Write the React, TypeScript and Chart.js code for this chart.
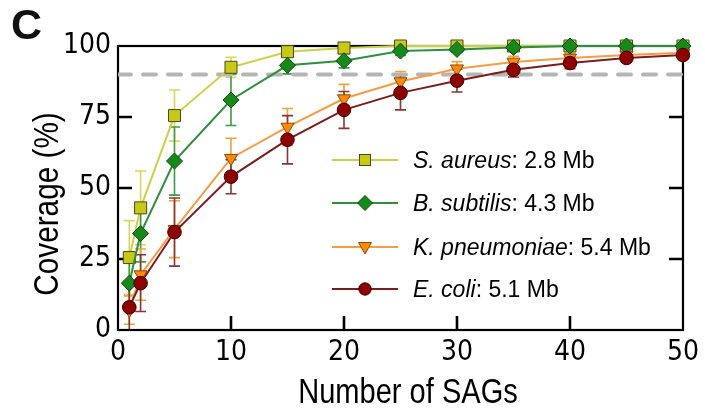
import React, { useEffect, useRef } from "react";
import { Chart, registerables } from "chart.js";

Chart.register(...registerables);

// ---------- data ----------
const sagCounts = [1, 2, 5, 10, 15, 20, 25, 30, 35, 40, 45, 50];

const sAureusCoverage = [25.5, 43, 75.5, 92.5, 98, 99.3, 100, 100, 100, 100, 100, 100];
const sAureusError = [13, 13, 9, 3.5, 1.5, 0.8, 0.3, 0.2, 0.2, 0.1, 0.1, 0.1];

const bSubtilisCoverage = [16.5, 34, 59.5, 81, 93.2, 94.8, 98.2, 98.8, 99.5, 100, 100, 100];
const bSubtilisError = [7, 10, 12, 9, 3, 2.5, 1.5, 1, 0.6, 0.3, 0.2, 0.2];

const kPneumoniaeCoverage = [7, 19.5, 35.5, 60.5, 71.5, 81.5, 87.5, 92, 94.4, 95.8, 96.8, 97.6];
const kPneumoniaeError = [5, 9, 10, 7, 6.5, 5, 3.5, 2.5, 2, 1.5, 1.2, 1];

const eColiCoverage = [8, 16.5, 34.5, 54, 67, 77.5, 83.5, 87.8, 91.6, 94, 95.8, 96.8];
const eColiError = [8, 10, 12, 6, 8.5, 6.5, 6, 4, 2.5, 2, 1.5, 1];

const speciesNames = ["S. aureus", "B. subtilis", "K. pneumoniae", "E. coli"];
const genomeSizes = ["2.8 Mb", "4.3 Mb", "5.4 Mb", "5.1 Mb"];

const thresholdLevel = 90;
const xTickValues = [0, 10, 20, 30, 40, 50];
const yTickValues = [0, 25, 50, 75, 100];
const xTickMarks = [10, 20, 30, 40];
const yTickMarks = [25, 50, 75];

// ---------- styles ----------
const seriesStyles = [
  { line: "#cbd146", fill: "#c8c818", edge: "#4a4a20", err: "#d9d75a", shape: "rect", radius: 8.5, rotation: 0, order: 4 },
  { line: "#2e8f3c", fill: "#17891b", edge: "#0b4a0e", err: "#3f9a45", shape: "rectRot", radius: 8, rotation: 0, order: 3 },
  { line: "#f59c45", fill: "#ff8a0a", edge: "#8a4a08", err: "#f2a23a", shape: "triangle", radius: 7.5, rotation: 180, order: 2 },
  { line: "#7c1c1c", fill: "#8e0000", edge: "#3a0000", err: "#8a3434", shape: "circle", radius: 6.8, rotation: 0, order: 1 },
];

const seriesValues = [sAureusCoverage, bSubtilisCoverage, kPneumoniaeCoverage, eColiCoverage];
const seriesErrors = [sAureusError, bSubtilisError, kPneumoniaeError, eColiError];

const CONDENSED = "'DejaVu Sans Condensed', 'Liberation Sans', Arial, sans-serif";
const REGULAR = "'Liberation Sans', Arial, sans-serif";

const framePlugin = {
  id: "frameAndErrors",
  beforeDatasetsDraw(chart: any) {
    const { ctx, chartArea, scales } = chart;
    const x = scales.x;
    const y = scales.y;
    ctx.save();
    ctx.beginPath();
    ctx.rect(chartArea.left, chartArea.top - 2, chartArea.right - chartArea.left, chartArea.bottom - chartArea.top + 2);
    ctx.clip();
    // error bars
    seriesValues.forEach((vals, si) => {
      const errs = seriesErrors[si];
      ctx.strokeStyle = seriesStyles[si].err;
      ctx.lineWidth = 1.6;
      sagCounts.forEach((xv, i) => {
        const e = errs[i];
        if (e < 0.5) return;
        const px = x.getPixelForValue(xv);
        const pTop = y.getPixelForValue(vals[i] + e);
        const pBot = y.getPixelForValue(vals[i] - e);
        ctx.beginPath();
        ctx.moveTo(px, pTop);
        ctx.lineTo(px, pBot);
        ctx.moveTo(px - 5.5, pTop);
        ctx.lineTo(px + 5.5, pTop);
        ctx.moveTo(px - 5.5, pBot);
        ctx.lineTo(px + 5.5, pBot);
        ctx.stroke();
      });
    });
    ctx.restore();

    // frame
    ctx.save();
    ctx.strokeStyle = "#000";
    ctx.lineWidth = 2.2;
    ctx.strokeRect(chartArea.left, chartArea.top, chartArea.right - chartArea.left, chartArea.bottom - chartArea.top);
    ctx.lineWidth = 2.6;
    const tl = 14;
    ctx.beginPath();
    xTickMarks.forEach((v) => {
      const px = x.getPixelForValue(v);
      ctx.moveTo(px, chartArea.bottom);
      ctx.lineTo(px, chartArea.bottom - tl);
    });
    yTickMarks.forEach((v) => {
      const py = y.getPixelForValue(v);
      ctx.moveTo(chartArea.left, py);
      ctx.lineTo(chartArea.left + tl, py);
      ctx.moveTo(chartArea.right, py);
      ctx.lineTo(chartArea.right - tl, py);
    });
    ctx.stroke();
    ctx.restore();
  },
};

function LegendMarker({ index }: { index: number }) {
  const s = seriesStyles[index];
  const cx = 33;
  const cy = 10;
  let shape: any = null;
  if (s.shape === "rect") {
    shape = <rect x={cx - 5.5} y={cy - 5.5} width={11} height={11} fill={s.fill} stroke={s.edge} strokeWidth={1} />;
  } else if (s.shape === "rectRot") {
    shape = <polygon points={`${cx},${cy - 7.5} ${cx + 7.5},${cy} ${cx},${cy + 7.5} ${cx - 7.5},${cy}`} fill={s.fill} stroke={s.edge} strokeWidth={1} />;
  } else if (s.shape === "triangle") {
    shape = <polygon points={`${cx - 6.5},${cy - 4.5} ${cx + 6.5},${cy - 4.5} ${cx},${cy + 7}`} fill={s.fill} stroke={s.edge} strokeWidth={1} />;
  } else {
    shape = <circle cx={cx} cy={cy} r={6.2} fill={s.fill} stroke={s.edge} strokeWidth={1} />;
  }
  return (
    <svg width={66} height={20} style={{ display: "block" }}>
      <line x1={0} y1={cy} x2={66} y2={cy} stroke={s.line} strokeWidth={2} />
      {shape}
    </svg>
  );
}

export default function App() {
  const canvasRef = useRef<HTMLCanvasElement | null>(null);

  useEffect(() => {
    if (!canvasRef.current) return;
    const datasets: any[] = seriesValues.map((vals, si) => {
      const s = seriesStyles[si];
      return {
        label: speciesNames[si],
        data: sagCounts.map((xv, i) => ({ x: xv, y: vals[i] })),
        borderColor: s.line,
        borderWidth: 2,
        backgroundColor: s.fill,
        pointBackgroundColor: s.fill,
        pointBorderColor: s.edge,
        pointBorderWidth: 1,
        pointStyle: s.shape,
        pointRadius: s.radius,
        pointRotation: s.rotation,
        tension: 0,
        order: s.order,
        clip: 12,
      };
    });
    datasets.push({
      label: "threshold",
      data: [
        { x: 0, y: thresholdLevel },
        { x: 50, y: thresholdLevel },
      ],
      borderColor: "#b5b5b5",
      borderWidth: 4,
      borderDash: [13, 12],
      borderCapStyle: "round",
      pointRadius: 0,
      order: 10,
    });

    const tickFont = { family: CONDENSED, size: 28 };
    const chart = new Chart(canvasRef.current, {
      type: "line",
      data: { datasets },
      options: {
        animation: false,
        responsive: true,
        maintainAspectRatio: false,
        layout: { padding: { left: 0, right: 17, top: 46, bottom: 0 } },
        plugins: { legend: { display: false }, tooltip: { enabled: false } },
        scales: {
          x: {
            type: "linear",
            min: 0,
            max: 50,
            afterBuildTicks: (s: any) => {
              s.ticks = xTickValues.map((v) => ({ value: v }));
            },
            afterFit: (s: any) => {
              s.height = 82;
            },
            grid: { display: false, drawTicks: false },
            border: { display: false },
            ticks: { padding: 6, font: tickFont, color: "#000", maxRotation: 0, autoSkip: false },
          },
          y: {
            type: "linear",
            min: 0,
            max: 100,
            afterBuildTicks: (s: any) => {
              s.ticks = yTickValues.map((v) => ({ value: v }));
            },
            afterFit: (s: any) => {
              s.width = 118;
            },
            grid: { display: false, drawTicks: false },
            border: { display: false },
            ticks: { padding: 7, font: tickFont, color: "#000", autoSkip: false },
          },
        },
      } as any,
      plugins: [framePlugin],
    });
    return () => chart.destroy();
  }, []);

  const rowCenters = [160, 203, 247, 289];

  return (
    <div style={{ position: "fixed", left: 0, top: 0, width: 705, height: 412, background: "#fff", overflow: "hidden" }}>
      <canvas ref={canvasRef} />
      <div
        style={{
          position: "absolute",
          left: 11,
          top: 3,
          fontFamily: REGULAR,
          fontWeight: "bold",
          fontSize: 43,
          lineHeight: 1,
          color: "#111",
        }}
      >
        C
      </div>
      <div
        style={{
          position: "absolute",
          left: 408,
          top: 373,
          transform: "translateX(-50%) scaleX(0.83)",
          whiteSpace: "nowrap",
          fontFamily: REGULAR,
          fontSize: 35,
          lineHeight: 1,
          color: "#000",
        }}
      >
        Number of SAGs
      </div>
      <div
        style={{
          position: "absolute",
          left: 45,
          top: 204,
          transform: "translate(-50%, -50%) rotate(-90deg) scaleX(0.85)",
          whiteSpace: "nowrap",
          fontFamily: REGULAR,
          fontSize: 35,
          lineHeight: 1,
          color: "#000",
        }}
      >
        Coverage (%)
      </div>
      {speciesNames.map((name, i) => (
        <div
          key={name}
          style={{
            position: "absolute",
            left: 332,
            top: rowCenters[i] - 15,
            height: 30,
            display: "flex",
            alignItems: "center",
            whiteSpace: "nowrap",
            fontFamily: REGULAR,
            fontSize: 23,
            color: "#000",
          }}
        >
          <LegendMarker index={i} />
          <span style={{ marginLeft: 15 }}>
            <i>{name}</i>: {genomeSizes[i]}
          </span>
        </div>
      ))}
    </div>
  );
}
